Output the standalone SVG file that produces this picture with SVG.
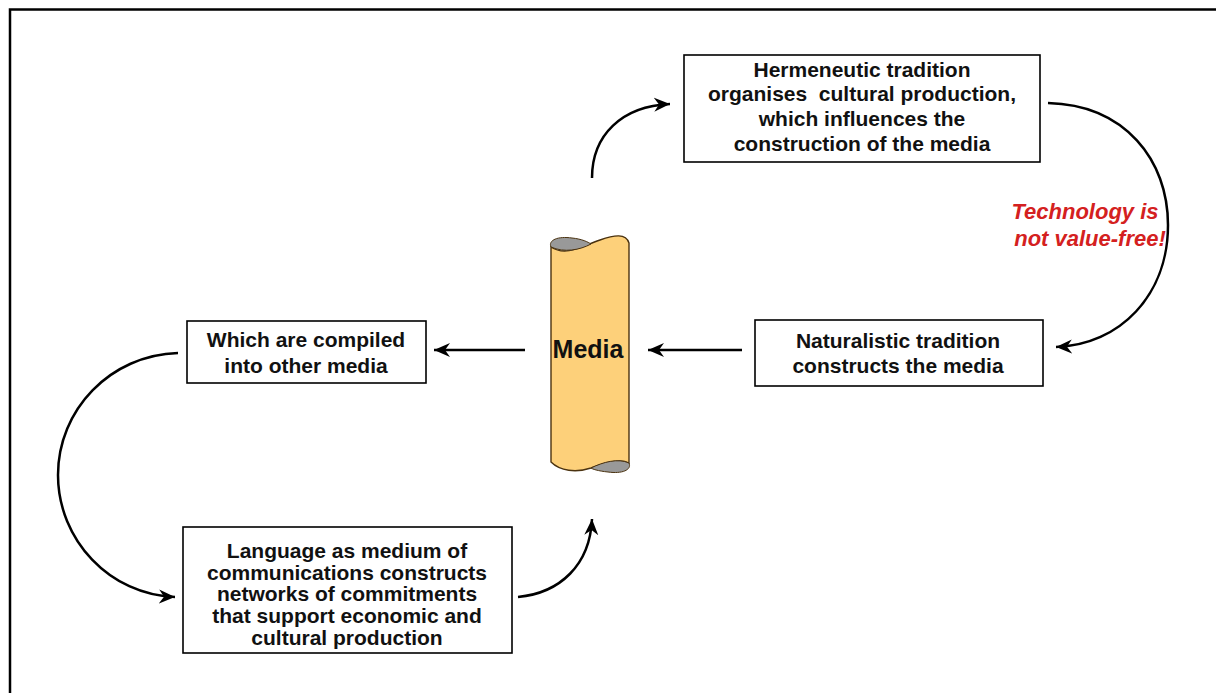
<svg xmlns="http://www.w3.org/2000/svg" width="1216" height="693" viewBox="0 0 1216 693">
<defs>
<style>
.box{fill:#fff;stroke:#000;stroke-width:1.6}
.t{font-family:"Liberation Sans",Arial,sans-serif;font-weight:bold;font-size:21px;fill:#111;text-anchor:middle}
.red{font-family:"Liberation Sans",Arial,sans-serif;font-weight:bold;font-style:italic;font-size:22px;fill:#d42020;text-anchor:middle}
.ln{fill:none;stroke:#000;stroke-width:2.5}
</style>
<marker id="ah" markerUnits="userSpaceOnUse" viewBox="-16 -8 18 16" refX="0" refY="0" markerWidth="18" markerHeight="16" orient="auto">
<path d="M-16,-7 L0,0 L-16,7 L-11,0 Z" fill="#000"/>
</marker>
</defs>
<rect width="1216" height="693" fill="#fff"/>
<path d="M10,693 L10,9.5 L1216,9.5" fill="none" stroke="#000" stroke-width="2.5"/>

<g id="media">
<path d="M551,247 C566,257 582,246 600,240 C614,235 626,233 629,243 L629,463 C620,458 606,462 591,468 C576,473 560,471 551,462 Z" fill="#fdd07a" stroke="#4a3210" stroke-width="1.4"/>
<path d="M551,247 C548,240 558,236 572,238 C582,239 588,242 591,244 C580,250 564,253 551,247 Z" fill="#999" stroke="#4a3210" stroke-width="1"/>
<path d="M629,463 C632,470 622,474 608,472 C598,471 592,469 591,468 C603,462 618,458 629,463 Z" fill="#999" stroke="#4a3210" stroke-width="1"/>
<text x="588" y="358" class="t" style="font-size:25px">Media</text>
</g>

<g id="hermeneutic">
<rect x="684" y="55" width="356" height="107" class="box"/>
<text class="t"><tspan x="862" y="77">Hermeneutic tradition</tspan><tspan x="862" y="101">organises&#160; cultural production,</tspan><tspan x="862" y="126">which influences the</tspan><tspan x="862" y="151">construction of the media</tspan></text>
</g>

<g id="naturalistic">
<rect x="755" y="320" width="288" height="66" class="box"/>
<text class="t"><tspan x="898" y="348">Naturalistic tradition</tspan><tspan x="898" y="373">constructs the media</tspan></text>
</g>

<g id="compiled">
<rect x="187" y="321" width="239" height="62" class="box"/>
<text class="t"><tspan x="306" y="347">Which are compiled</tspan><tspan x="306" y="373">into other media</tspan></text>
</g>

<g id="language">
<rect x="183" y="527" width="329" height="126" class="box"/>
<text class="t"><tspan x="347" y="558">Language as medium of</tspan><tspan x="347" y="580">communications constructs</tspan><tspan x="347" y="601">networks of commitments</tspan><tspan x="347" y="623">that support economic and</tspan><tspan x="347" y="645">cultural production</tspan></text>
</g>

<g id="note">
<text class="red"><tspan x="1085" y="219">Technology is</tspan><tspan x="1090" y="246">not value-free!</tspan></text>
</g>

<g id="connectors">
<path class="ln" d="M742,350 L648,350" marker-end="url(#ah)"/>
<path class="ln" d="M525,350 L434,350" marker-end="url(#ah)"/>
<path class="ln" d="M592,178 C592,135 622,106 670,104" marker-end="url(#ah)"/>
<path class="ln" d="M1048,103 C1125,105 1168,160 1168,225 C1168,295 1120,345 1056,347" marker-end="url(#ah)"/>
<path class="ln" d="M178,353 C110,355 58,410 58,475 C58,540 110,595 175,597" marker-end="url(#ah)"/>
<path class="ln" d="M518,597 C560,593 590,565 592,519" marker-end="url(#ah)"/>
</g>
</svg>
